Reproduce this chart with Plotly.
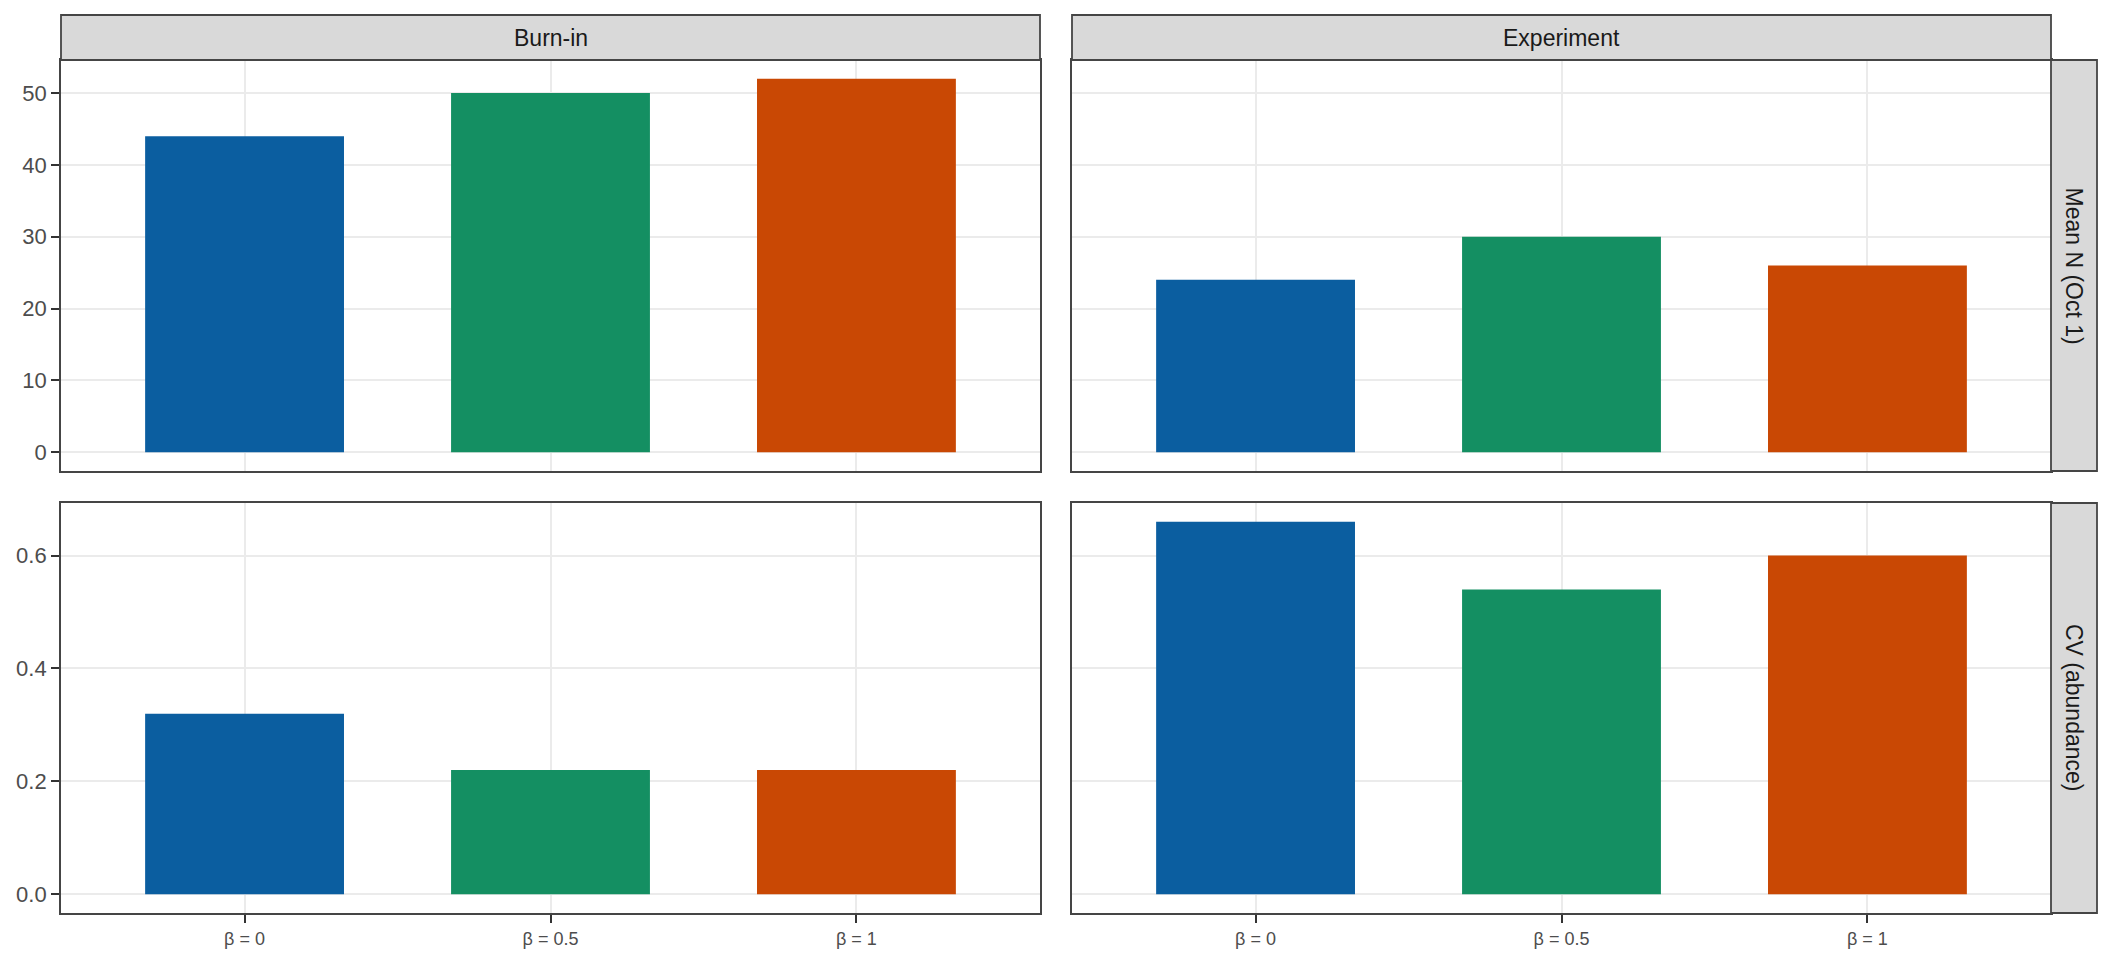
import plotly.graph_objs as go

# facet labels and categories
phases = ["Burn-in", "Experiment"]
metrics = ["Mean N (Oct 1)", "CV (abundance)"]
betas = ["β = 0", "β = 0.5", "β = 1"]

# values read per facet
mean_n_burnin = [44, 50, 52]
mean_n_experiment = [24, 30, 26]
cv_burnin = [0.32, 0.22, 0.22]
cv_experiment = [0.66, 0.54, 0.60]

bar_colors = ["#0B5EA0", "#148F62", "#C94804"]


def expand(values):
    # ggplot style 5% padding around 0..max
    hi = max(values)
    pad = 0.05 * hi
    return [-pad, hi + pad]


def main():

    # page body has an 8px margin, so the figure is a bit smaller than the window
    W, H = 2096, 944
    ml, mr, mt, mb = 53, 53, 52, 39
    pw = W - ml - mr
    ph = H - mt - mb

    col_dom = [[0, 979 / pw], [1011 / pw, 1]]
    row_dom = [[1 - 411 / ph, 1], [0, 410 / ph]]

    panels = [
        (0, 0, mean_n_burnin),
        (0, 1, mean_n_experiment),
        (1, 0, cv_burnin),
        (1, 1, cv_experiment),
    ]

    row_ranges = [expand(mean_n_burnin + mean_n_experiment),
                  expand(cv_burnin + cv_experiment)]
    row_dticks = [10, 0.2]
    row_formats = ["d", ".1f"]

    font_family = "Liberation Sans, Arial, sans-serif"
    border = "#454545"

    traces = []
    layout = go.Layout(
        width=W, height=H,
        margin=dict(l=ml, r=mr, t=mt, b=mb, autoexpand=False),
        paper_bgcolor="white",
        plot_bgcolor="white",
        showlegend=False,
        font=dict(family=font_family, color="#4D4D4D"),
    )

    for i, (r, c, vals) in enumerate(panels):
        n = i + 1
        xa = "x" if n == 1 else "x%d" % n
        ya = "y" if n == 1 else "y%d" % n
        traces.append(go.Bar(x=betas, y=vals, marker=dict(color=bar_colors, line=dict(width=0)),
                             width=0.65, xaxis=xa, yaxis=ya, hoverinfo="x+y"))

        xkey = "xaxis" if n == 1 else "xaxis%d" % n
        ykey = "yaxis" if n == 1 else "yaxis%d" % n
        layout[xkey] = dict(
            domain=col_dom[c], anchor=ya, type="category",
            categoryorder="array", categoryarray=betas,
            range=[-0.6, len(betas) - 0.4], automargin=False,
            showgrid=True, gridcolor="#EBEBEB", gridwidth=2,
            showline=True, mirror=True, linecolor=border, linewidth=1.8,
            ticks="outside" if r == 1 else "", ticklen=8, tickwidth=2, tickcolor="#333333",
            showticklabels=(r == 1),
            tickfont=dict(size=18, color="#4D4D4D"),
            zeroline=False, fixedrange=True,
        )
        layout[ykey] = dict(
            domain=row_dom[r], anchor=xa, automargin=False,
            range=row_ranges[r], dtick=row_dticks[r], tick0=0, tickformat=row_formats[r],
            showgrid=True, gridcolor="#EBEBEB", gridwidth=2,
            showline=True, mirror=True, linecolor=border, linewidth=1.8,
            ticks="outside" if c == 0 else "", ticklen=8, tickwidth=2, tickcolor="#333333",
            showticklabels=(c == 0),
            tickfont=dict(size=22, color="#4D4D4D"),
            zeroline=False, fixedrange=True,
        )

    shapes = []
    annotations = []

    # column strips on top
    strip_top = 1 + 45 / ph
    for c, label in enumerate(phases):
        shapes.append(dict(type="rect", xref="paper", yref="paper",
                           x0=col_dom[c][0], x1=col_dom[c][1], y0=1, y1=strip_top,
                           fillcolor="#D9D9D9", line=dict(color=border, width=1.8)))
        annotations.append(dict(xref="paper", yref="paper",
                                x=(col_dom[c][0] + col_dom[c][1]) / 2, y=(1 + strip_top) / 2,
                                xanchor="center", yanchor="middle",
                                text=label, showarrow=False,
                                font=dict(size=23, color="#1A1A1A", family=font_family)))

    # row strips on the right
    strip_right = 1 + 46 / pw
    for r, label in enumerate(metrics):
        shapes.append(dict(type="rect", xref="paper", yref="paper",
                           x0=1, x1=strip_right, y0=row_dom[r][0], y1=row_dom[r][1],
                           fillcolor="#D9D9D9", line=dict(color=border, width=1.8)))
        annotations.append(dict(xref="paper", yref="paper",
                                x=(1 + strip_right) / 2, y=(row_dom[r][0] + row_dom[r][1]) / 2,
                                xanchor="center", yanchor="middle",
                                text=label, showarrow=False, textangle=90,
                                font=dict(size=23, color="#1A1A1A", family=font_family)))

    layout["shapes"] = shapes
    layout["annotations"] = annotations

    fig = go.Figure(traces, layout=layout)

    # write to html file
    fig.write_html("out.html")


if __name__ == "__main__":
    main()
